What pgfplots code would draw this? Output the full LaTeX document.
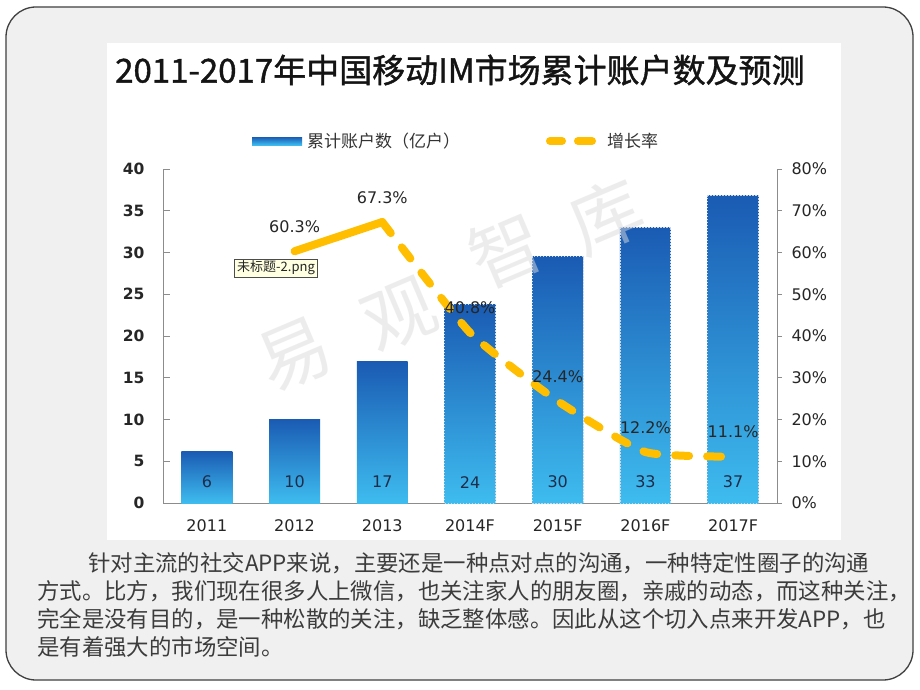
\documentclass[border=0pt]{standalone}
\usepackage{pgfplots}
\pgfplotsset{compat=1.18}
\usepackage{fontspec}
\setmainfont{DejaVu Sans}
\newfontfamily\cjk{Noto Sans CJK SC}
\newfontfamily\cjktitle{Noto Sans CJK SC}[FakeBold=1.2]
\definecolor{bgc}{HTML}{F0F0F0}
\definecolor{bartop}{HTML}{1A5BB3}
\definecolor{barbot}{HTML}{3EBCEF}
\definecolor{linec}{HTML}{FFBE00}
\definecolor{axisgray}{HTML}{8C8C8C}
\definecolor{txt}{HTML}{262626}
\definecolor{navy}{HTML}{1E2D4A}
\definecolor{tipc}{HTML}{FFFFE1}
\definecolor{bodyc}{HTML}{3C3C3C}
\definecolor{dashc}{HTML}{C8D6E6}
\pgfplotsset{
  onebar/.style={ybar, bar width=0.58, bar shift=0pt, draw=none, top color=bartop, bottom color=barbot},
  fcbar/.style={ybar, bar width=0.58, bar shift=0pt, fill=none, draw=dashc, dash pattern=on 1.5pt off 1.5pt, line width=0.8pt},
}
\begin{document}
\begin{tikzpicture}
\path[use as bounding box] (0,0) rectangle (920pt,-690pt);
\fill[white] (0,0) rectangle (920pt,-690pt);
\draw[rounded corners=30pt, fill=bgc, draw=black!75, line width=1.3pt] (6pt,-7pt) rectangle (913pt,-680pt);
\fill[white] (107pt,-43pt) rectangle (841pt,-540pt);
% title
\node[anchor=west, font=\cjktitle\fontsize{33}{33}\selectfont, text=black!92, inner sep=0pt] at (115pt,-70pt) {2011-2017年中国移动IM市场累计账户数及预测};
% legend
\shade[top color=bartop, bottom color=barbot] (252pt,-137pt) rectangle (302pt,-145pt);
\node[anchor=west, font=\cjk\fontsize{17}{17}\selectfont, text=black!80, inner sep=0pt] at (307pt,-141pt) {累计账户数（亿户）};
\draw[line width=8pt, line cap=round, linec] (550pt,-141pt)--(562pt,-141pt) (578pt,-141pt)--(592pt,-141pt);
\node[anchor=west, font=\cjk\fontsize{17}{17}\selectfont, text=black!80, inner sep=0pt] at (607pt,-141pt) {增长率};
% bar axis
\begin{axis}[
  at={(163pt,-503pt)}, anchor=south west,
  scale only axis, width=614pt, height=334pt,
  xmin=-0.5, xmax=6.5, ymin=0, ymax=40,
  axis x line*=bottom, axis y line*=left,
  axis line style={draw=axisgray, line width=0.9pt},
  ytick={0,5,...,40},
  xtick={0,...,6}, xticklabels={2011,2012,2013,2014F,2015F,2016F,2017F},
  major tick length=7pt, tick align=inside,
  x tick style={draw=none},
  y tick style={draw=axisgray, line width=0.9pt},
  /pgf/number format/assume math mode=true,
  tick label style={font=\fontsize{16}{16}\selectfont, text=txt},
  yticklabel style={font=\bfseries\fontsize{15.5}{15.5}\selectfont},
  yticklabel shift=15pt,
  xticklabel shift=13pt,
  clip=false,
]
\addplot[onebar] coordinates {(0,6.2)};
\addplot[onebar] coordinates {(1,10.05)};
\addplot[onebar] coordinates {(2,16.9)};
\addplot[onebar] coordinates {(3,23.8)};
\addplot[onebar] coordinates {(4,29.5)};
\addplot[onebar] coordinates {(5,33.05)};
\addplot[onebar] coordinates {(6,36.8)};
\addplot[fcbar] coordinates {(3,23.8)(4,29.5)(5,33.05)(6,36.8)};
\addplot[draw=none, mark=none, nodes near coords, point meta=explicit symbolic,
  every node near coord/.style={anchor=center, font=\fontsize{16}{16}\selectfont, text=navy}]
  coordinates {(0,2.5)[6] (1,2.5)[10] (2,2.5)[17] (3,2.5)[24] (4,2.5)[30] (5,2.5)[33] (6,2.5)[37]};
\end{axis}
% line axis
\begin{axis}[
  at={(163pt,-503pt)}, anchor=south west,
  scale only axis, width=614pt, height=334pt,
  xmin=-0.5, xmax=6.5, ymin=0, ymax=80,
  axis x line=none, axis y line*=right, xtick=\empty,
  axis line style={draw=axisgray, line width=0.9pt},
  ytick={0,10,...,80},
  yticklabel={\pgfmathprintnumber{\tick}\%},
  major tick length=5pt, tick align=outside,
  y tick style={draw=axisgray, line width=0.9pt},
  /pgf/number format/assume math mode=true,
  tick label style={font=\fontsize{16}{16}\selectfont, text=txt},
  yticklabel shift=6pt,
  clip=false,
]
\addplot[linec, line width=8pt, line cap=round, line join=miter] coordinates {(1,60.3)(2,67.3)};
\addplot[linec, line width=8pt, line cap=round, dash pattern=on 14pt off 18pt, smooth, tension=0.3]
  coordinates {(2,67.3)(3,40.8)(4,24.4)(5,12.2)(6,11.1)};
\addplot[draw=none, mark=none, nodes near coords, point meta=explicit symbolic,
  every node near coord/.style={anchor=south, yshift=15pt, font=\fontsize{16}{16}\selectfont, text=txt}]
  coordinates {(1,60.3)[60.3\%] (2,67.3)[67.3\%] (3,40.8)[40.8\%] (4,24.4)[24.4\%] (5,12.2)[12.2\%] (6,11.1)[11.1\%]};
\end{axis}
% watermark
\begin{scope}[every node/.style={rotate=23, text=black!14, text opacity=0.5, inner sep=0pt, font=\cjk\fontsize{72}{72}\selectfont}]
\node at (295pt,-355pt) {易};
\node at (400pt,-315pt) {观};
\node at (506pt,-250pt) {智};
\node at (606pt,-216pt) {库};
\end{scope}
% tooltip
\node[draw=black!70, fill=tipc, inner xsep=2.5pt, inner ysep=2pt, font=\cjk\fontsize{13}{13}\selectfont, text=black!85] at (276pt,-268pt) {未标题-2.png};
% body text
\begin{scope}[every node/.style={anchor=west, inner sep=0pt, text=bodyc, font=\cjk\fontsize{22.4}{22.4}\selectfont}]
\node at (88pt,-563pt) {针对主流的社交APP来说，主要还是一种点对点的沟通，一种特定性圈子的沟通};
\node at (37pt,-591pt) {方式。比方，我们现在很多人上微信，也关注家人的朋友圈，亲戚的动态，而这种关注，};
\node at (37pt,-619pt) {完全是没有目的，是一种松散的关注，缺乏整体感。因此从这个切入点来开发APP，也};
\node at (37pt,-647pt) {是有着强大的市场空间。};
\end{scope}
\end{tikzpicture}
\end{document}
